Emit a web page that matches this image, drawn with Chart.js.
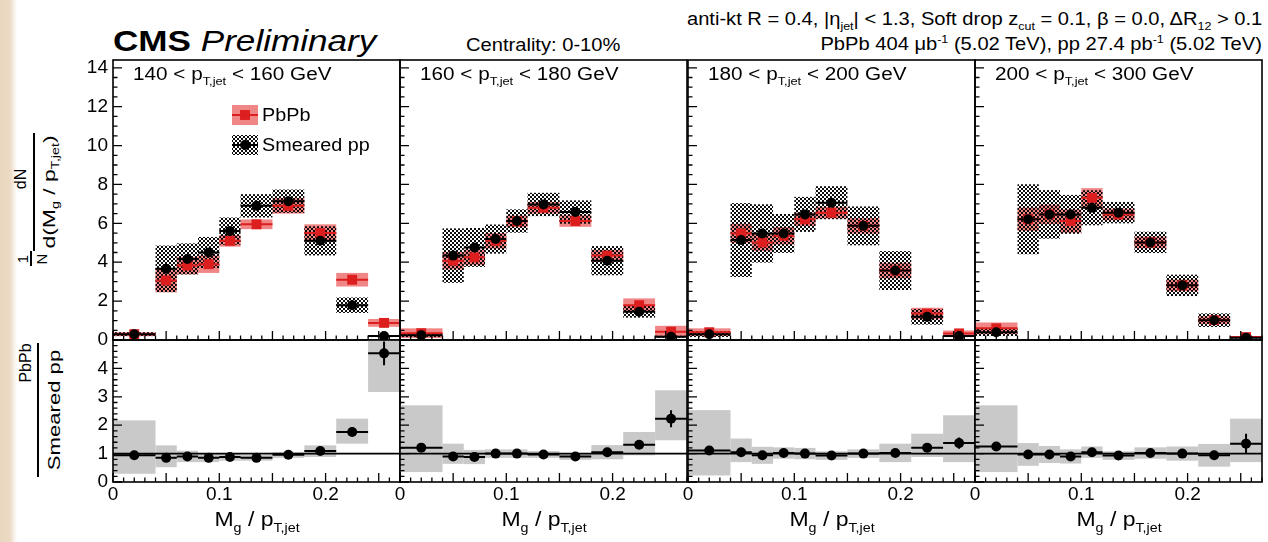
<!DOCTYPE html>
<html>
<head>
<meta charset="utf-8">
<title>Groomed jet mass ratio, PbPb vs smeared pp</title>
<script src="https://cdn.jsdelivr.net/npm/chart.js@4.4.1/dist/chart.umd.min.js"></script>
<style>
  body { margin: 0; background: #fff; font-family: 'Liberation Sans', Arial, sans-serif; color: #000; }
  #page { position: relative; width: 1268px; height: 542px; overflow: hidden; background: #fff; }
  #edge { position: absolute; left: 0; top: 0; width: 17px; height: 542px;
          background: linear-gradient(to right, #ead6bf 0, #ecdac5 10px, #fff 17px); }
  canvas { position: absolute; }
  .t { position: absolute; white-space: nowrap; line-height: 1; }
  .s { display: inline-block; transform: scaleX(1.15); transform-origin: left center; }
  .sr { display: inline-block; transform: scaleX(1.15); transform-origin: right center; }
  .r { position: absolute; white-space: nowrap; line-height: 1; transform: translate(-50%, -50%) rotate(-90deg); }
  .bar { position: absolute; background: #000; }
  sub { font-size: 62%; vertical-align: -0.45em; line-height: 0; }
  sup { font-size: 62%; vertical-align: 0.65em; line-height: 0; }
</style>
</head>
<body>
<div id="page">
  <div id="edge"></div>

  <div class="t" style="left:113px;top:26px;font-size:30px"><span class="s" style="transform:scaleX(1.17)"><b>CMS</b> <i>Preliminary</i></span></div>
  <div class="t" style="left:466px;top:37px;font-size:17.5px"><span class="s">Centrality: 0-10%</span></div>
  <div class="t" style="right:6px;top:11px;font-size:17.5px"><span class="sr">anti-kt R = 0.4, |η<sub>jet</sub>| &lt; 1.3, Soft drop z<sub>cut</sub> = 0.1, β = 0.0, ΔR<sub>12</sub> &gt; 0.1</span></div>
  <div class="t" style="right:6px;top:36px;font-size:17.5px"><span class="sr">PbPb 404 μb<sup>-1</sup> (5.02 TeV), pp 27.4 pb<sup>-1</sup> (5.02 TeV)</span></div>

  <!-- y-axis titles -->
  <div class="r" style="left:22px;top:259px;font-size:15px">1</div>
  <div class="bar" style="left:30px;top:251px;width:1.5px;height:15px"></div>
  <div class="r" style="left:41px;top:259px;font-size:15px">N</div>
  <div class="r" style="left:21px;top:179px;font-size:16px">dN</div>
  <div class="bar" style="left:33px;top:133px;width:1.5px;height:118px"></div>
  <div class="r" style="left:49px;top:192px;font-size:17px;transform:translate(-50%,-50%) rotate(-90deg) scaleX(1.35)">d(M<sub>g</sub> / p<sub>T,jet</sub>)</div>

  <div class="r" style="left:26px;top:363px;font-size:16px">PbPb</div>
  <div class="bar" style="left:37px;top:343px;width:1.5px;height:134px"></div>
  <div class="r" style="left:54px;top:410px;font-size:17px;transform:translate(-50%,-50%) rotate(-90deg) scaleX(1.3)">Smeared pp</div>
</div>

<script>
// bin edges in Mg / pT,jet, shared by all panels
const binEdges = [0, 0.04, 0.06, 0.08, 0.10, 0.12, 0.15, 0.18, 0.21, 0.24, 0.27];

// jet pT ranges (GeV), one panel each
const ptLow = [140, 160, 180, 200];
const ptHigh = [160, 180, 200, 300];

// 140 < pT < 160
const pbpb140 = [0.30, 3.06, 3.83, 3.90, 5.10, 5.95, 6.90, 5.50, 3.10, 0.88];
const pbpbSys140 = [0.10, 0.60, 0.45, 0.45, 0.30, 0.25, 0.40, 0.45, 0.35, 0.20];
const pp140 = [0.30, 3.66, 4.17, 4.50, 5.60, 6.90, 7.14, 5.10, 1.79, 0.20];
const ppSys140 = [0.10, 1.20, 0.80, 0.80, 0.70, 0.60, 0.60, 0.75, 0.40, 0.05];
const ratio140 = [0.94, 0.85, 0.90, 0.85, 0.88, 0.85, 0.96, 1.09, 1.76, 4.53];
const ratioLo140 = [0.29, 0.52, 0.70, 0.70, 0.75, 0.75, 0.85, 0.88, 1.35, 3.17];
const ratioHi140 = [2.17, 1.29, 1.10, 1.00, 1.00, 0.95, 1.05, 1.29, 2.23, 5.00];
const ratioStat140 = [0.10, 0.05, 0.05, 0.05, 0.05, 0.05, 0.05, 0.05, 0.10, 0.42];

// 160 < pT < 180
const pbpb160 = [0.35, 4.08, 4.25, 5.10, 6.10, 6.80, 6.12, 4.34, 1.79, 0.43];
const pbpbSys160 = [0.25, 0.45, 0.40, 0.40, 0.30, 0.30, 0.30, 0.30, 0.35, 0.30];
const pp160 = [0.25, 4.34, 4.76, 5.19, 6.12, 6.97, 6.58, 4.08, 1.45, 0.17];
const ppSys160 = [0.10, 1.40, 1.00, 0.75, 0.60, 0.60, 0.60, 0.75, 0.30, 0.05];
const ratio160 = [1.21, 0.90, 0.88, 1.00, 1.00, 0.97, 0.90, 1.05, 1.31, 2.23];
const ratioLo160 = [0.35, 0.64, 0.63, 0.85, 0.85, 0.85, 0.78, 0.80, 0.94, 1.47];
const ratioHi160 = [2.70, 1.35, 1.13, 1.15, 1.15, 1.09, 1.02, 1.30, 1.76, 3.23];
const ratioStat160 = [0.10, 0.05, 0.05, 0.05, 0.05, 0.05, 0.05, 0.06, 0.10, 0.30];

// 180 < pT < 200
const pbpb180 = [0.40, 5.48, 5.02, 5.36, 6.21, 6.55, 5.87, 3.57, 1.36, 0.34];
const pbpbSys180 = [0.20, 0.50, 0.45, 0.45, 0.35, 0.30, 0.40, 0.40, 0.30, 0.15];
const pp180 = [0.30, 5.14, 5.48, 5.48, 6.46, 7.06, 5.87, 3.57, 1.19, 0.20];
const ppSys180 = [0.15, 1.90, 1.50, 1.00, 0.90, 0.85, 1.00, 1.00, 0.40, 0.05];
const ratio180 = [1.11, 1.05, 0.94, 1.02, 1.00, 0.93, 1.00, 1.02, 1.21, 1.37];
const ratioLo180 = [0.23, 0.70, 0.64, 0.82, 0.80, 0.78, 0.85, 0.70, 0.88, 0.70];
const ratioHi180 = [2.53, 1.53, 1.24, 1.22, 1.20, 1.08, 1.15, 1.35, 1.70, 2.35];
const ratioStat180 = [0.10, 0.06, 0.05, 0.05, 0.05, 0.05, 0.05, 0.06, 0.10, 0.20];

// 200 < pT < 300
const pbpb200 = [0.60, 6.21, 6.46, 6.12, 7.31, 6.46, 5.02, 2.81, 1.02, 0.15];
const pbpbSys200 = [0.30, 0.60, 0.50, 0.60, 0.50, 0.30, 0.30, 0.30, 0.20, 0.05];
const pp200 = [0.40, 6.21, 6.46, 6.46, 6.80, 6.55, 5.02, 2.81, 1.02, 0.12];
const ppSys200 = [0.20, 1.80, 1.25, 1.00, 0.90, 0.55, 0.55, 0.55, 0.35, 0.05];
const ratio200 = [1.25, 0.97, 0.97, 0.90, 1.05, 0.93, 1.02, 1.00, 0.94, 1.35];
const ratioLo200 = [0.35, 0.57, 0.67, 0.65, 0.85, 0.78, 0.82, 0.75, 0.54, 0.70];
const ratioHi200 = [2.70, 1.37, 1.27, 1.15, 1.25, 1.08, 1.22, 1.25, 1.34, 2.23];
const ratioStat200 = [0.10, 0.06, 0.05, 0.05, 0.05, 0.05, 0.05, 0.06, 0.10, 0.35];

const panels = [
  { pbpb: pbpb140, pbpbSys: pbpbSys140, pp: pp140, ppSys: ppSys140, ratio: ratio140, lo: ratioLo140, hi: ratioHi140, stat: ratioStat140 },
  { pbpb: pbpb160, pbpbSys: pbpbSys160, pp: pp160, ppSys: ppSys160, ratio: ratio160, lo: ratioLo160, hi: ratioHi160, stat: ratioStat160 },
  { pbpb: pbpb180, pbpbSys: pbpbSys180, pp: pp180, ppSys: ppSys180, ratio: ratio180, lo: ratioLo180, hi: ratioHi180, stat: ratioStat180 },
  { pbpb: pbpb200, pbpbSys: pbpbSys200, pp: pp200, ppSys: ppSys200, ratio: ratio200, lo: ratioLo200, hi: ratioHi200, stat: ratioStat200 },
];

const binCenters = binEdges.slice(0, -1).map((e, i) => (e + binEdges[i + 1]) / 2);

const FONT = "'Liberation Sans', Arial, sans-serif";
const RED = '#dc1e1e';
const PINK = 'rgba(232, 60, 60, 0.62)';
const GREY = '#c9c9c9';

// panel geometry (px)
const panelLeft = [113, 400, 688, 975];
const panelW = 287;
const upperTop = 58, upperH = 282;
const lowerTop = 340, lowerH = 142;
const yAxisW = 45, padRight = 8;

// dense crossed hatching for the smeared pp systematics
const hatchTile = document.createElement('canvas');
hatchTile.width = 4; hatchTile.height = 4;
{
  const g = hatchTile.getContext('2d');
  g.fillStyle = 'rgba(0,0,0,0.95)';
  for (let i = 0; i < 4; i++) {
    g.fillRect(i, i, 1, 1);
    g.fillRect(3 - i, i, 1, 1);
  }
}

function fillFor(chart, style) {
  if (style !== 'hatch') return style;
  if (!chart.$hatch) chart.$hatch = chart.ctx.createPattern(hatchTile, 'repeat');
  return chart.$hatch;
}

// systematic boxes, bin-width bars and stat bars, plus frame and inner ticks
const hepPlugin = {
  id: 'hep',
  beforeDatasetsDraw(chart, args, opts) {
    const { ctx, chartArea: a, scales: { x, y } } = chart;
    const edgePx = binEdges.map(e => x.getPixelForValue(e));
    ctx.save();
    ctx.beginPath();
    ctx.rect(a.left, a.top, a.right - a.left, a.bottom - a.top);
    ctx.clip();

    chart.data.datasets.forEach(ds => {
      ctx.fillStyle = fillFor(chart, ds.boxFill);
      ds.boxLo.forEach((lo, i) => {
        const top = y.getPixelForValue(ds.boxHi[i]);
        const bot = y.getPixelForValue(lo);
        ctx.fillRect(edgePx[i], top, edgePx[i + 1] - edgePx[i], bot - top);
      });
    });

    if (opts.unity) {
      ctx.strokeStyle = '#000';
      ctx.lineWidth = 1.6;
      const py = y.getPixelForValue(1);
      ctx.beginPath();
      ctx.moveTo(a.left, py);
      ctx.lineTo(a.right, py);
      ctx.stroke();
    }

    chart.data.datasets.forEach(ds => {
      ctx.strokeStyle = ds.borderColor;
      ctx.lineWidth = 2;
      ctx.beginPath();
      ds.data.forEach((p, i) => {
        const py = y.getPixelForValue(p.y);
        ctx.moveTo(edgePx[i], py);
        ctx.lineTo(edgePx[i + 1], py);
        if (ds.stat) {
          const px = x.getPixelForValue(p.x);
          ctx.moveTo(px, y.getPixelForValue(p.y + ds.stat[i]));
          ctx.lineTo(px, y.getPixelForValue(p.y - ds.stat[i]));
        }
      });
      ctx.stroke();
    });
    ctx.restore();
  },
  afterDraw(chart, args, opts) {
    const { ctx, chartArea: a, scales: { x, y } } = chart;
    ctx.save();
    ctx.strokeStyle = '#000';
    ctx.lineWidth = 1.6;
    ctx.strokeRect(a.left, a.top, a.right - a.left, a.bottom - a.top);

    ctx.lineWidth = 1.3;
    ctx.beginPath();
    for (let k = 0; k <= 27; k++) {
      const px = x.getPixelForValue(k / 100);
      const len = k % 5 === 0 ? 9 : 4.5;
      ctx.moveTo(px, a.bottom);
      ctx.lineTo(px, a.bottom - len);
    }
    const n = Math.floor(y.max / opts.yMinor + 1e-6);
    const per = Math.round(opts.yMajor / opts.yMinor);
    for (let k = 0; k <= n; k++) {
      const py = y.getPixelForValue(k * opts.yMinor);
      const len = k % per === 0 ? 9 : 4.5;
      ctx.moveTo(a.left, py);
      ctx.lineTo(a.left + len, py);
    }
    ctx.stroke();

    if (opts.legend) {
      chart.data.datasets.forEach((ds, i) => {
        const cx = a.left + 132, cy = a.top + 55 + 30 * i;
        ctx.fillStyle = fillFor(chart, ds.boxFill);
        ctx.fillRect(cx - 13, cy - 10, 26, 20);
        ctx.strokeStyle = ds.borderColor;
        ctx.lineWidth = 2;
        ctx.beginPath();
        ctx.moveTo(cx - 13, cy);
        ctx.lineTo(cx + 13, cy);
        ctx.stroke();
        ctx.fillStyle = ds.pointBackgroundColor;
        ctx.beginPath();
        if (ds.pointStyle === 'rect') {
          const s = ds.pointRadius * Math.SQRT1_2;
          ctx.rect(cx - s, cy - s, 2 * s, 2 * s);
        } else {
          ctx.arc(cx, cy, ds.pointRadius, 0, Math.PI * 2);
        }
        ctx.fill();
        ctx.save();
        ctx.translate(cx + 17, cy + 1);
        ctx.scale(1.1, 1);
        ctx.fillStyle = '#000';
        ctx.font = '18px ' + FONT;
        ctx.textBaseline = 'middle';
        ctx.fillText(ds.label, 0, 0);
        ctx.restore();
      });
    }
    ctx.restore();
  }
};

function points(values) {
  return binCenters.map((x, i) => ({ x, y: values[i] }));
}

function makeChart(left, top, plotH, xAxisH, datasets, o) {
  const canvas = document.createElement('canvas');
  canvas.width = yAxisW + panelW + padRight;
  canvas.height = 5 + plotH + xAxisH;
  canvas.style.left = (left - yAxisW) + 'px';
  canvas.style.top = (top - 5) + 'px';
  document.getElementById('page').appendChild(canvas);

  return new Chart(canvas.getContext('2d'), {
    type: 'scatter',
    data: { datasets },
    options: {
      responsive: false,
      animation: false,
      events: [],
      layout: { padding: { top: 5, right: padRight, left: 0, bottom: 0 } },
      plugins: {
        legend: { display: false },
        tooltip: { enabled: false },
        hep: { unity: o.unity, legend: o.legend, yMinor: o.yMinor, yMajor: o.yMajor },
      },
      scales: {
        x: {
          type: 'linear', min: 0, max: 0.27,
          grid: { display: false, drawTicks: false },
          border: { display: false },
          ticks: {
            display: o.xLabels, stepSize: 0.1, includeBounds: false, maxRotation: 0, padding: 1,
            color: '#000', font: { family: FONT, size: 19 },
          },
          afterFit(s) { s.height = xAxisH; s.paddingLeft = 0; s.paddingRight = 0; },
        },
        y: {
          type: 'linear', min: 0, max: o.yMax,
          grid: { display: false, drawTicks: false },
          border: { display: false },
          ticks: {
            display: o.yLabels, stepSize: o.yMajor, includeBounds: false, padding: 5,
            color: '#000', font: { family: FONT, size: 19 },
            callback: v => (v >= 5 && o.unity ? '' : String(v)),
          },
          afterFit(s) { s.width = yAxisW; s.paddingTop = 0; s.paddingBottom = 0; },
        },
      },
    },
    plugins: [hepPlugin],
  });
}

const page = document.getElementById('page');

panels.forEach((p, col) => {
  const left = panelLeft[col];

  // upper: normalised distributions
  makeChart(left, upperTop, upperH, 15, [
    {
      label: 'PbPb', data: points(p.pbpb), order: 1,
      pointStyle: 'rect', pointRadius: 7, pointBackgroundColor: RED, pointBorderWidth: 0,
      borderColor: RED, boxFill: PINK,
      boxLo: p.pbpb.map((v, i) => v - p.pbpbSys[i]), boxHi: p.pbpb.map((v, i) => v + p.pbpbSys[i]),
    },
    {
      label: 'Smeared pp', data: points(p.pp), order: 0,
      pointStyle: 'circle', pointRadius: 5, pointBackgroundColor: '#000', pointBorderWidth: 0,
      borderColor: '#000', boxFill: 'hatch',
      boxLo: p.pp.map((v, i) => v - p.ppSys[i]), boxHi: p.pp.map((v, i) => v + p.ppSys[i]),
    },
  ], { yMax: 14.4, yMajor: 2, yMinor: 0.5, xLabels: false, yLabels: col === 0, legend: col === 0, unity: false });

  // lower: PbPb / smeared pp
  makeChart(left, lowerTop, lowerH, 40, [
    {
      label: 'PbPb / Smeared pp', data: points(p.ratio),
      pointStyle: 'circle', pointRadius: 5, pointBackgroundColor: '#000', pointBorderWidth: 0,
      borderColor: '#000', boxFill: GREY, boxLo: p.lo, boxHi: p.hi, stat: p.stat,
    },
  ], { yMax: 5, yMajor: 1, yMinor: 0.2, xLabels: true, yLabels: col === 0, legend: false, unity: true });

  // bin label and x-axis title
  const lab = document.createElement('div');
  lab.className = 't';
  lab.style.cssText = `left:${left + 20}px;top:65px;font-size:18px`;
  lab.innerHTML = `<span class="s">${ptLow[col]} &lt; p<sub>T,jet</sub> &lt; ${ptHigh[col]} GeV</span>`;
  page.appendChild(lab);

  const xt = document.createElement('div');
  xt.className = 't';
  xt.style.cssText = `left:${left + panelW / 2}px;top:509px;font-size:20px;transform:translateX(-50%) scaleX(1.15)`;
  xt.innerHTML = 'M<sub>g</sub> / p<sub>T,jet</sub>';
  page.appendChild(xt);
});
</script>
</body>
</html>
